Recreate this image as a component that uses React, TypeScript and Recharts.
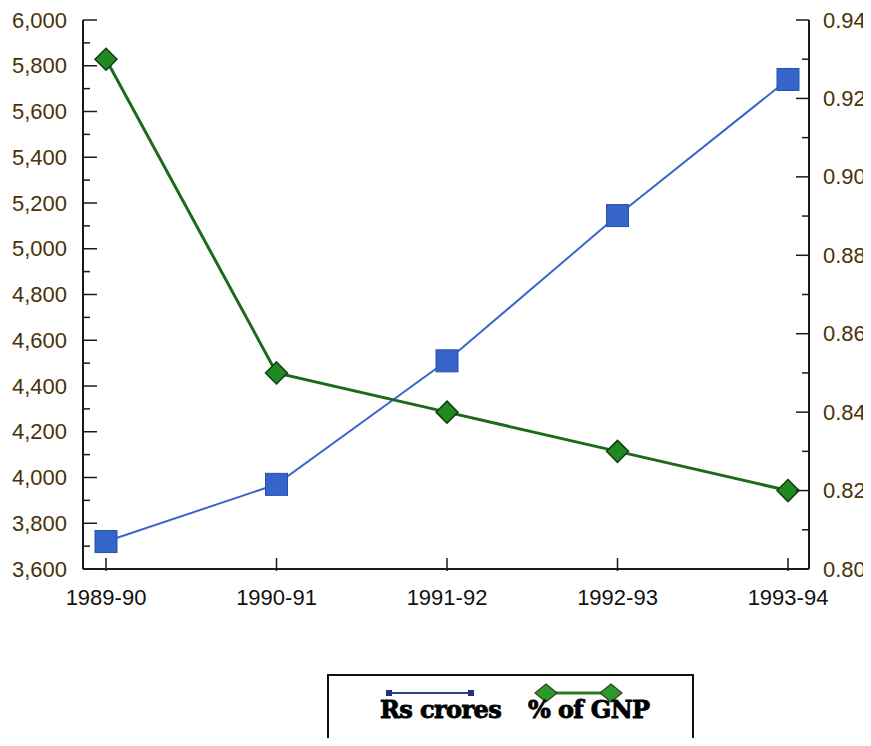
import React from "react";
import { LineChart, Line, XAxis, YAxis } from "recharts";

// Defence expenditure: Rs crores (left axis) and % of GNP (right axis)
const categories = ["1989-90", "1990-91", "1991-92", "1992-93", "1993-94"];
const rsCrores = [3720, 3970, 4510, 5145, 5740];
const pctOfGnp = [0.93, 0.85, 0.84, 0.83, 0.82];

const leftTicks = [
  3600, 3700, 3800, 3900, 4000, 4100, 4200, 4300, 4400, 4500, 4600, 4700,
  4800, 4900, 5000, 5100, 5200, 5300, 5400, 5500, 5600, 5700, 5800, 5900, 6000,
];
const rightTicks = [
  0.8, 0.81, 0.82, 0.83, 0.84, 0.85, 0.86, 0.87, 0.88, 0.89, 0.9, 0.91, 0.92,
  0.93, 0.94,
];

const AXIS = "#1a1a1a";
const LABEL = "#4a3208";
const FONT = "'Liberation Sans', Arial, sans-serif";

const data = categories.map((year, i) => ({
  year,
  rs: rsCrores[i],
  pct: pctOfGnp[i],
}));

const LeftTick = (props: any) => {
  const { x, y, payload } = props;
  const v = payload.value as number;
  const major = Math.round(v) % 200 === 0;
  const ax = x + 16;
  return (
    <g>
      <line x1={ax} x2={ax + (major ? 14 : 7)} y1={y} y2={y} stroke={AXIS} strokeWidth={1.5} />
      {major && (
        <text x={x} y={y} textAnchor="end" dominantBaseline="central" fontSize={22} fontFamily={FONT} fill={LABEL}>
          {v.toLocaleString("en-US")}
        </text>
      )}
    </g>
  );
};

const RightTick = (props: any) => {
  const { x, y, payload } = props;
  const v = payload.value as number;
  const major = Math.round(v * 100) % 2 === 0;
  const ax = x - 14;
  return (
    <g>
      <line x1={ax} x2={ax - (major ? 13 : 7)} y1={y} y2={y} stroke={AXIS} strokeWidth={1.5} />
      {major && (
        <text x={x} y={y} textAnchor="start" dominantBaseline="central" fontSize={22} fontFamily={FONT} fill={LABEL}>
          {v.toFixed(2)}
        </text>
      )}
    </g>
  );
};

const XTick = (props: any) => {
  const { x, y, payload } = props;
  return (
    <g>
      <line x1={x} x2={x} y1={y} y2={y - 13} stroke={AXIS} strokeWidth={1.5} />
      <text x={x} y={y + 26} textAnchor="middle" dominantBaseline="central" fontSize={22} fontFamily={FONT} fill="#111">
        {payload.value}
      </text>
    </g>
  );
};

const SquareDot = (props: any) => {
  const { cx, cy, index } = props;
  if (cx == null || cy == null) return null;
  return (
    <rect key={`sq-${index}`} x={cx - 11} y={cy - 11} width={22} height={22} fill="#3565cb" stroke="#2a4fa6" strokeWidth={1} />
  );
};

const DiamondDot = (props: any) => {
  const { cx, cy, index } = props;
  if (cx == null || cy == null) return null;
  return (
    <polygon
      key={`dm-${index}`}
      points={`${cx},${cy - 11} ${cx + 11},${cy} ${cx},${cy + 11} ${cx - 11},${cy}`}
      fill="#1f8a22"
      stroke="#123d12"
      strokeWidth={1.5}
    />
  );
};

function LegendBox() {
  const textStyle = {
    fontFamily: "'DejaVu Serif', serif",
    fontWeight: "bold" as const,
    fontSize: 24,
    letterSpacing: -0.6,
  };
  return (
    <div
      style={{
        position: "absolute",
        left: 319,
        top: 666,
        width: 367,
        height: 120,
        border: "2px solid #111",
        boxSizing: "border-box",
        background: "#fff",
      }}
    >
      <svg width={363} height={118} style={{ display: "block" }}>
        {/* Rs crores marker */}
        <line x1={60} x2={142} y1={17} y2={17} stroke="#2a4390" strokeWidth={2} />
        <rect x={57} y={14} width={6} height={6} fill="#1f3380" />
        <rect x={139} y={14} width={6} height={6} fill="#1f3380" />
        {/* % of GNP marker */}
        <line x1={217} x2={282} y1={17} y2={17} stroke="#2c7a1c" strokeWidth={3} />
        <polygon points="217,8 228,17 217,26 206,17" fill="#2a9a2a" stroke="#3d3d1a" strokeWidth={1.2} />
        <polygon points="282,8 293,17 282,26 271,17" fill="#2a9a2a" stroke="#3d3d1a" strokeWidth={1.2} />
        <text x={51} y={42} {...textStyle} fill="#000" stroke="#000" strokeWidth={0.9}>
          Rs crores
        </text>
        <text x={199} y={42} {...textStyle} fill="#000" stroke="#000" strokeWidth={0.9}>
          % of GNP
        </text>
      </svg>
    </div>
  );
}

export default function App() {
  return (
    <div style={{ position: "relative", width: 863, height: 738, marginBottom: -8, overflow: "hidden", background: "#fff" }}>
      <LineChart width={863} height={620} data={data} margin={{ top: 12, right: 0, bottom: 0, left: 0 }}>
        <XAxis
          xAxisId="bottom"
          dataKey="year"
          height={59}
          padding={{ left: 23, right: 21 }}
          interval={0}
          tickSize={0}
          tickLine={false}
          axisLine={{ stroke: AXIS, strokeWidth: 2 }}
          tick={(p: any) => <XTick {...p} />}
        />
        <XAxis
          xAxisId="top"
          orientation="top"
          dataKey="year"
          height={0}
          padding={{ left: 23, right: 21 }}
          tick={false}
          tickLine={false}
          axisLine={{ stroke: AXIS, strokeWidth: 2 }}
        />
        <YAxis
          yAxisId="left"
          width={75}
          domain={[3600, 6000]}
          ticks={leftTicks}
          interval={0}
          tickSize={0}
          tickMargin={16}
          tickLine={false}
          axisLine={{ stroke: AXIS, strokeWidth: 2 }}
          tick={(p: any) => <LeftTick {...p} />}
        />
        <YAxis
          yAxisId="right"
          orientation="right"
          width={62}
          domain={[0.8, 0.94]}
          ticks={rightTicks}
          interval={0}
          tickSize={0}
          tickMargin={14}
          tickLine={false}
          axisLine={{ stroke: AXIS, strokeWidth: 2 }}
          tick={(p: any) => <RightTick {...p} />}
        />
        <Line
          xAxisId="bottom"
          yAxisId="left"
          dataKey="rs"
          type="linear"
          stroke="#3a66cc"
          strokeWidth={2}
          dot={(p: any) => <SquareDot {...p} />}
          activeDot={false}
          isAnimationActive={false}
        />
        <Line
          xAxisId="bottom"
          yAxisId="right"
          dataKey="pct"
          type="linear"
          stroke="#1c6b1c"
          strokeWidth={3}
          dot={(p: any) => <DiamondDot {...p} />}
          activeDot={false}
          isAnimationActive={false}
        />
      </LineChart>
      <LegendBox />
    </div>
  );
}
